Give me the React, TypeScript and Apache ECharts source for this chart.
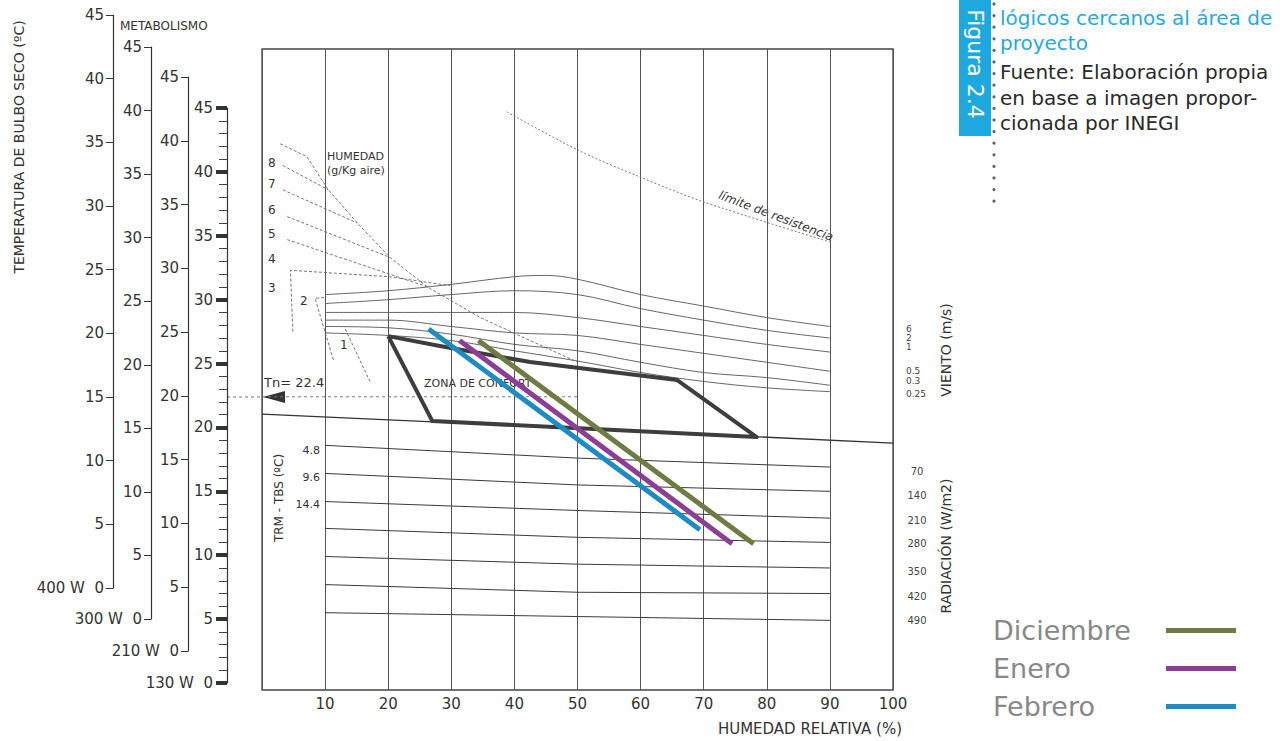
import React, { useEffect, useRef } from "react";
import * as echarts from "echarts";

// ---------- DATA ----------
const relativeHumidityTicks = [0, 10, 20, 30, 40, 50, 60, 70, 80, 90, 100];
const metabolismRates = ["400 W", "300 W", "210 W", "130 W"];
const legendNames = ["Diciembre", "Enero", "Febrero"];

// month lines [RH %, T ºC]
const diciembre = [[34.3, 26.8], [77.9, 10.9]];
const enero = [[31.3, 26.8], [74.5, 10.9]];
const febrero = [[26.4, 27.7], [69.4, 12.0]];

const comfortZone = [[20.0, 27.15], [28.2, 26.37], [42.5, 25.12], [65.8, 23.71], [78.4, 19.25], [27.0, 20.5], [20.0, 27.15]];
const comfortLowerLine = [[0, 21.05], [100, 18.78]];
const tnValue = 22.4;
const tnLine = [[0, tnValue], [50, tnValue]];

const windLabels = ["6", "2", "1", "0.5", "0.3", "0.25"];
const windLines = [
  [[10, 30.4], [20, 30.7], [30, 31.2], [40, 31.8], [45, 31.9], [50, 31.6], [60, 30.4], [70, 29.5], [80, 28.6], [90, 27.9]],
  [[10, 29.7], [20, 30.0], [30, 30.4], [40, 30.7], [50, 30.4], [60, 29.3], [70, 28.4], [80, 27.6], [90, 27.0]],
  [[10, 29.0], [20, 29.0], [30, 29.0], [40, 29.0], [50, 28.6], [60, 27.9], [70, 27.2], [80, 26.5], [90, 25.9]],
  [[10, 28.4], [20, 28.4], [30, 27.9], [40, 27.4], [50, 27.2], [60, 26.5], [70, 25.8], [80, 25.1], [90, 24.4]],
  [[10, 27.9], [20, 27.8], [30, 27.3], [40, 26.5], [50, 26.0], [60, 25.1], [70, 24.3], [80, 23.9], [90, 23.3]],
  [[10, 27.4], [20, 27.2], [30, 26.8], [40, 26.0], [50, 25.2], [60, 24.3], [70, 23.6], [80, 23.1], [90, 22.8]],
];

const radiationLabels = ["70", "140", "210", "280", "350", "420", "490"];
const trmLabels = ["4.8", "9.6", "14.4"];
const radiationLines = [
  [[10, 18.6], [30, 18.1], [50, 17.6], [90, 16.9]],
  [[10, 16.4], [50, 15.5], [90, 15.0]],
  [[10, 14.2], [50, 13.5], [90, 12.9]],
  [[10, 12.1], [50, 11.4], [90, 11.0]],
  [[10, 9.9], [50, 9.3], [90, 9.0]],
  [[10, 7.7], [50, 7.1], [90, 7.0]],
  [[10, 5.5], [50, 5.2], [90, 4.9]],
];

const humidityLabels = ["8", "7", "6", "5", "4", "3", "2", "1"];
const humidityDiagonal = [[2.9, 42.2], [7.1, 41.2], [10.5, 38.6], [15.1, 36.0], [20.3, 33.3], [26.2, 31.0], [34.6, 28.6], [42.5, 26.8], [50.1, 25.1]];
const humidityLines = [
  [[3.3, 40.5], [10.5, 38.6]],
  [[3.3, 38.6], [15.1, 36.0]],
  [[4.0, 36.5], [20.3, 33.3]],
  [[4.0, 34.7], [26.2, 31.0]],
  [[4.9, 27.5], [4.5, 32.3], [20.1, 31.8], [29.8, 31.1]],
  [[11.3, 25.3], [8.4, 30.1], [10.2, 30.2]],
  [[13.2, 27.7], [17.1, 23.6]],
];
const resistanceLimit = [[38.8, 44.7], [50.1, 41.7], [59.9, 39.6], [70.3, 37.6], [90.1, 34.5]];

// ---------- STYLE ----------
const FONT = "'DejaVu Sans', 'Liberation Sans', sans-serif";
const INK = "#333";
const COLORS: Record<string, string> = { Diciembre: "#6e7b42", Enero: "#8d3d96", Febrero: "#1b8cc4" };

function buildOption() {
  const scales = [
    { left: 113, top: 15, height: 573 },
    { left: 151, top: 47, height: 572 },
    { left: 188, top: 77, height: 574 },
    { left: 227, top: 108, height: 575 },
  ];

  const grid: any[] = [
    { left: 262, right: 395, top: 49, bottom: 51, show: true, borderColor: "#444", borderWidth: 1.3, containLabel: false, outerBoundsMode: "none" },
    ...scales.map((s) => ({ left: s.left, top: s.top, height: s.height, width: 1, show: false, containLabel: false, outerBoundsMode: "none" })),
  ];

  const xAxis: any[] = [
    {
      gridIndex: 0, type: "value", min: relativeHumidityTicks[0], max: relativeHumidityTicks[relativeHumidityTicks.length - 1], interval: 10,
      axisLine: { show: false }, axisTick: { show: false },
      axisLabel: { fontSize: 15, color: INK, fontFamily: FONT, margin: 6, showMaxLabel: true, formatter: (v: number) => (v === 0 ? "" : String(v)) },
      splitLine: { show: true, lineStyle: { color: "#555", width: 1 } },
    },
    ...scales.map((_, i) => ({ gridIndex: i + 1, type: "value", min: 0, max: 1, show: false })),
  ];

  const yAxis: any[] = [
    { gridIndex: 0, type: "value", min: -0.55, max: 49.62, show: false, splitLine: { show: false } },
    ...scales.map((_, i) => ({
      gridIndex: i + 1, type: "value", min: 0, max: 45, interval: 5, position: "left",
      axisLine: { show: true, lineStyle: { color: INK, width: 1.2 } },
      axisTick: { show: true, length: i === 3 ? 11 : 7, lineStyle: { color: INK, width: i === 3 ? 4 : 1 } },
      minorTick: i === 3 ? { show: true, splitNumber: 5, length: 8, lineStyle: { color: "#444", width: 1 } } : { show: false },
      splitLine: { show: false },
      axisLabel: {
        fontSize: 15, color: INK, fontFamily: FONT, margin: i === 3 ? 14 : 9,
        formatter: (v: number) => (v === 0 ? metabolismRates[i] + "  0" : String(v)),
      },
    })),
  ];

  const base = { type: "line", xAxisIndex: 0, yAxisIndex: 0, symbol: "none", silent: true, z: 2 };
  const series: any[] = [];
  radiationLines.forEach((d) => series.push({ ...base, data: d, lineStyle: { color: "#3a3a3a", width: 1 } }));
  windLines.forEach((d) => series.push({ ...base, data: d, smooth: 0.35, lineStyle: { color: "#555", width: 0.9 } }));
  series.push({ ...base, data: humidityDiagonal, lineStyle: { color: "#666", width: 0.9, type: [3, 2] } });
  humidityLines.forEach((d) => series.push({ ...base, data: d, lineStyle: { color: "#666", width: 0.9, type: [3, 2] } }));
  series.push({ ...base, data: resistanceLimit, smooth: 0.3, lineStyle: { color: "#777", width: 1, type: [2, 2] } });
  series.push({ ...base, data: comfortLowerLine, lineStyle: { color: "#333", width: 1.3 } });
  series.push({ ...base, data: tnLine, lineStyle: { color: "#777", width: 1, type: [3, 3] } });
  series.push({ ...base, data: comfortZone, z: 3, lineStyle: { color: "#3d3d3d", width: 4, join: "round" } });
  const months: [string, number[][]][] = [["Diciembre", diciembre], ["Enero", enero], ["Febrero", febrero]];
  months.forEach(([name, d]) =>
    series.push({ ...base, name, data: d, z: 4, color: COLORS[name], lineStyle: { color: COLORS[name], width: 5 } })
  );

  const t = (text: string, x: number, y: number, extra: any = {}, rotation = 0) => ({
    type: "text", x, y, rotation, silent: true,
    style: { text, fontSize: 12, fill: INK, fontFamily: FONT, align: "left", verticalAlign: "middle", ...extra },
  });

  const graphic: any[] = [];
  // titles
  graphic.push(t("TEMPERATURA DE BULBO SECO (ºC)", 19, 147, { fontSize: 14, align: "center" }, Math.PI / 2));
  graphic.push(t("METABOLISMO", 120, 26, { fontSize: 12 }));
  graphic.push(t("HUMEDAD RELATIVA (%)", 902, 729, { fontSize: 15, align: "right" }));
  graphic.push(t("VIENTO (m/s)", 946, 350, { fontSize: 14, align: "center" }, Math.PI / 2));
  graphic.push(t("RADIACIÓN (W/m2)", 946, 546, { fontSize: 14, align: "center" }, Math.PI / 2));
  graphic.push(t("TRM - TBS (ºC)", 279, 498, { fontSize: 12, align: "center" }, Math.PI / 2));
  graphic.push(t("HUMEDAD", 327, 156, { fontSize: 11 }));
  graphic.push(t("(g/Kg aire)", 327, 170, { fontSize: 11 }));
  graphic.push(t("ZONA DE CONFORT", 424, 383, { fontSize: 11 }));
  graphic.push(t("límite de resistencia", 776, 216, { fontSize: 12, fontStyle: "italic", align: "center" }, -0.36));
  graphic.push(t("Tn= " + tnValue, 264, 382, { fontSize: 13 }));
  // Tn arrow and leader
  graphic.push({ type: "line", silent: true, shape: { x1: 227, y1: 397, x2: 262, y2: 397 }, style: { stroke: "#777", lineWidth: 1, lineDash: [3, 3] } });
  graphic.push({ type: "polygon", silent: true, shape: { points: [[263, 397], [285, 391], [285, 403]] }, style: { fill: "#333" } });
  // humidity labels
  const humY = [163, 184, 210, 234, 259, 288, 301, 345];
  const humX = [268, 268, 268, 268, 268, 268, 300, 340];
  humidityLabels.forEach((s, i) => graphic.push(t(s, humX[i], humY[i], { fontSize: 12 })));
  // wind labels
  const windY = [329, 338, 347, 371, 381, 394];
  windLabels.forEach((s, i) => graphic.push(t(s, 906, windY[i], { fontSize: 9, fill: "#444" })));
  // radiation labels
  const radY = [471, 495, 520, 543, 571, 596, 620];
  radiationLabels.forEach((s, i) => graphic.push(t(s, 917, radY[i], { fontSize: 10, align: "center", fill: "#444" })));
  // TRM labels
  const trmY = [450, 477, 504];
  trmLabels.forEach((s, i) => graphic.push(t(s, 320, trmY[i], { fontSize: 11, align: "right" })));

  // side caption block
  graphic.push({ type: "rect", silent: true, shape: { x: 959, y: 0, width: 32, height: 136 }, style: { fill: "#1ea8e0" } });
  graphic.push(t("Figura 2.4", 975, 64, { fontSize: 22, fill: "#fff", align: "center" }, -Math.PI / 2));
  for (let y = 4; y <= 208; y += 11.6) {
    graphic.push({ type: "circle", silent: true, shape: { cx: 994, cy: y, r: 1.6 }, style: { fill: "#666" } });
  }
  const blueLines = ["lógicos cercanos al área de", "proyecto"];
  const blackLines = ["Fuente: Elaboración propia", "en base a imagen propor-", "cionada por INEGI"];
  blueLines.forEach((s, i) => graphic.push(t(s, 1000, 18 + i * 25, { fontSize: 20, fill: "#27a9e1" })));
  blackLines.forEach((s, i) => graphic.push(t(s, 1000, 72 + i * 25.5, { fontSize: 20, fill: "#2a2a2a" })));

  return {
    animation: false,
    backgroundColor: "#fff",
    grid, xAxis, yAxis, series, graphic,
    legend: {
      data: legendNames,
      orient: "vertical",
      left: 988,
      top: 612,
      align: "right",
      icon: "rect",
      itemWidth: 70,
      itemHeight: 5,
      itemGap: 11,
      selectedMode: false,
      formatter: (name: string) => `{n|${name}}`,
      textStyle: {
        color: "#888",
        fontFamily: FONT,
        fontSize: 27,
        rich: { n: { width: 168, align: "left", fontSize: 27, color: "#888", fontFamily: FONT, lineHeight: 32 } },
      },
    },
  };
}

export default function App() {
  const ref = useRef<HTMLDivElement>(null);
  useEffect(() => {
    if (!ref.current) return;
    const chart = echarts.init(ref.current, null, { renderer: "svg" });
    chart.setOption(buildOption() as any);
    return () => chart.dispose();
  }, []);
  return <div ref={ref} style={{ position: "fixed", left: 0, top: 0, width: 1288, height: 741, background: "#fff" }} />;
}
